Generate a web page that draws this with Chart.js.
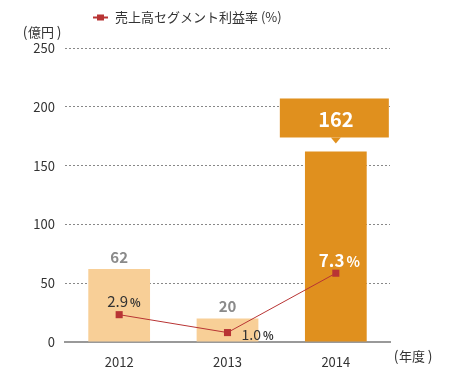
<!DOCTYPE html>
<html>
<head>
<meta charset="utf-8">
<script src="https://cdn.jsdelivr.net/npm/chart.js@4/dist/chart.umd.min.js"></script>
<style>
  html, body { margin: 0; padding: 0; background: #fff; }
  #wrap { width: 450px; height: 370px; position: relative; }
</style>
</head>
<body>
<div id="wrap"><canvas id="chart"></canvas></div>
<script>
const years = ['2012', '2013', '2014'];
const sales = [62, 20, 162];           // 億円
const margin = [2.9, 1.0, 7.3];        // 売上高セグメント利益率 (%)
const yTicks = [0, 50, 100, 150, 200, 250];

const FONT = '"Noto Sans CJK JP", "Noto Sans", sans-serif';
const LIGHT = '#F8CF97';
const ORANGE = '#E0901E';
const RED = '#B83434';

// 括弧付きの単位ラベル（括弧の間を少し空ける）
function unitLabel(ctx, text, cx, cy) {
  ctx.textAlign = 'center';
  ctx.font = '13px ' + FONT;
  ctx.fillText(text, cx, cy);
  ctx.font = '14px ' + FONT;
  ctx.fillText('(', cx - 16, cy);
  ctx.fillText(')', cx + 18, cy);
}

// ラベル・凡例などの描画
const labelsPlugin = {
  id: 'labels',
  afterDatasetsDraw(chart) {
    const ctx = chart.ctx;
    const x = chart.scales.x;
    const y = chart.scales.y;
    const y2 = chart.scales.y2;
    ctx.save();
    ctx.textBaseline = 'middle';

    // 棒の数値
    sales.forEach((v, i) => {
      const cx = x.getPixelForValue(i);
      const top = y.getPixelForValue(v);
      if (i < 2) {
        ctx.fillStyle = '#8a8a8a';
        ctx.font = 'bold 15px ' + FONT;
        ctx.textAlign = 'center';
        ctx.fillText(String(v), cx, top - 12);
      } else {
        // 吹き出し
        const bw = 109, bh = 39;
        const bx = cx - 56, by = top - 53;
        ctx.fillStyle = ORANGE;
        ctx.fillRect(bx, by, bw, bh);
        ctx.beginPath();
        ctx.moveTo(cx - 5, by + bh);
        ctx.lineTo(cx + 5, by + bh);
        ctx.lineTo(cx, by + bh + 6);
        ctx.closePath();
        ctx.fill();
        ctx.fillStyle = '#fff';
        ctx.font = 'bold 20px ' + FONT;
        ctx.textAlign = 'center';
        ctx.fillText(String(v), cx, by + bh / 2 + 1);
      }
    });

    // 利益率ラベル
    const pct = (i, dx, dy, color, numFont, pFont) => {
      const px = x.getPixelForValue(i) + dx;
      const py = y2.getPixelForValue(margin[i]) + dy;
      ctx.fillStyle = color;
      ctx.textAlign = 'left';
      ctx.font = numFont;
      const t = margin[i].toFixed(1);
      ctx.fillText(t, px, py);
      const w = ctx.measureText(t).width;
      ctx.font = pFont;
      ctx.fillText('%', px + w + 2, py + 1);
    };
    pct(0, -12, -13, '#333', '15px ' + FONT, 'bold 11px ' + FONT);
    pct(1, 14, 2, '#333', '14px ' + FONT, 'bold 11px ' + FONT);
    pct(2, -17, -13, '#fff', 'bold 17px ' + FONT, 'bold 14px ' + FONT);

    // 凡例
    ctx.strokeStyle = RED;
    ctx.lineWidth = 2;
    ctx.beginPath();
    ctx.moveTo(93, 17.5);
    ctx.lineTo(108, 17.5);
    ctx.stroke();
    ctx.fillStyle = RED;
    ctx.fillRect(97, 14.5, 7, 6);
    ctx.fillStyle = '#333';
    ctx.font = '13px ' + FONT;
    ctx.textAlign = 'left';
    ctx.fillText('売上高セグメント利益率 (%)', 115, 17);

    // 単位
    unitLabel(ctx, '億円', 41, 32);
    unitLabel(ctx, '年度', 412, 356);
    ctx.restore();
  }
};

new Chart(document.getElementById('chart'), {
  data: {
    labels: years,
    datasets: [
      {
        type: 'line',
        data: margin,
        yAxisID: 'y2',
        borderColor: RED,
        backgroundColor: RED,
        borderWidth: 1,
        pointStyle: 'rect',
        pointRadius: 5,
        pointBorderWidth: 0,
        order: 0
      },
      {
        type: 'bar',
        data: sales,
        backgroundColor: [LIGHT, LIGHT, ORANGE],
        barPercentage: 0.57,
        categoryPercentage: 1,
        order: 1
      }
    ]
  },
  options: {
    responsive: true,
    maintainAspectRatio: false,
    animation: false,
    layout: { padding: { top: 48, right: 60, left: 0, bottom: 0 } },
    plugins: { legend: { display: false }, tooltip: { enabled: false } },
    scales: {
      x: {
        grid: { display: false },
        border: { color: '#999', width: 2 },
        ticks: { color: '#333', font: { family: FONT, size: 13 }, padding: 4 },
        afterFit(s) { s.height = 28; }
      },
      y: {
        min: 0,
        max: 250,
        afterBuildTicks(s) { s.ticks = yTicks.map(v => ({ value: v })); },
        grid: {
          drawTicks: false,
          color: c => c.tick && c.tick.value === 0 ? 'rgba(0,0,0,0)' : '#888',
          lineWidth: 1
        },
        border: { display: false, dash: [2, 2] },
        ticks: { color: '#333', font: { family: FONT, size: 13 }, padding: 10 },
        afterFit(s) { s.width = 65; }
      },
      y2: {
        display: false,
        min: 0,
        max: 31.2
      }
    }
  },
  plugins: [labelsPlugin]
});
</script>
</body>
</html>
